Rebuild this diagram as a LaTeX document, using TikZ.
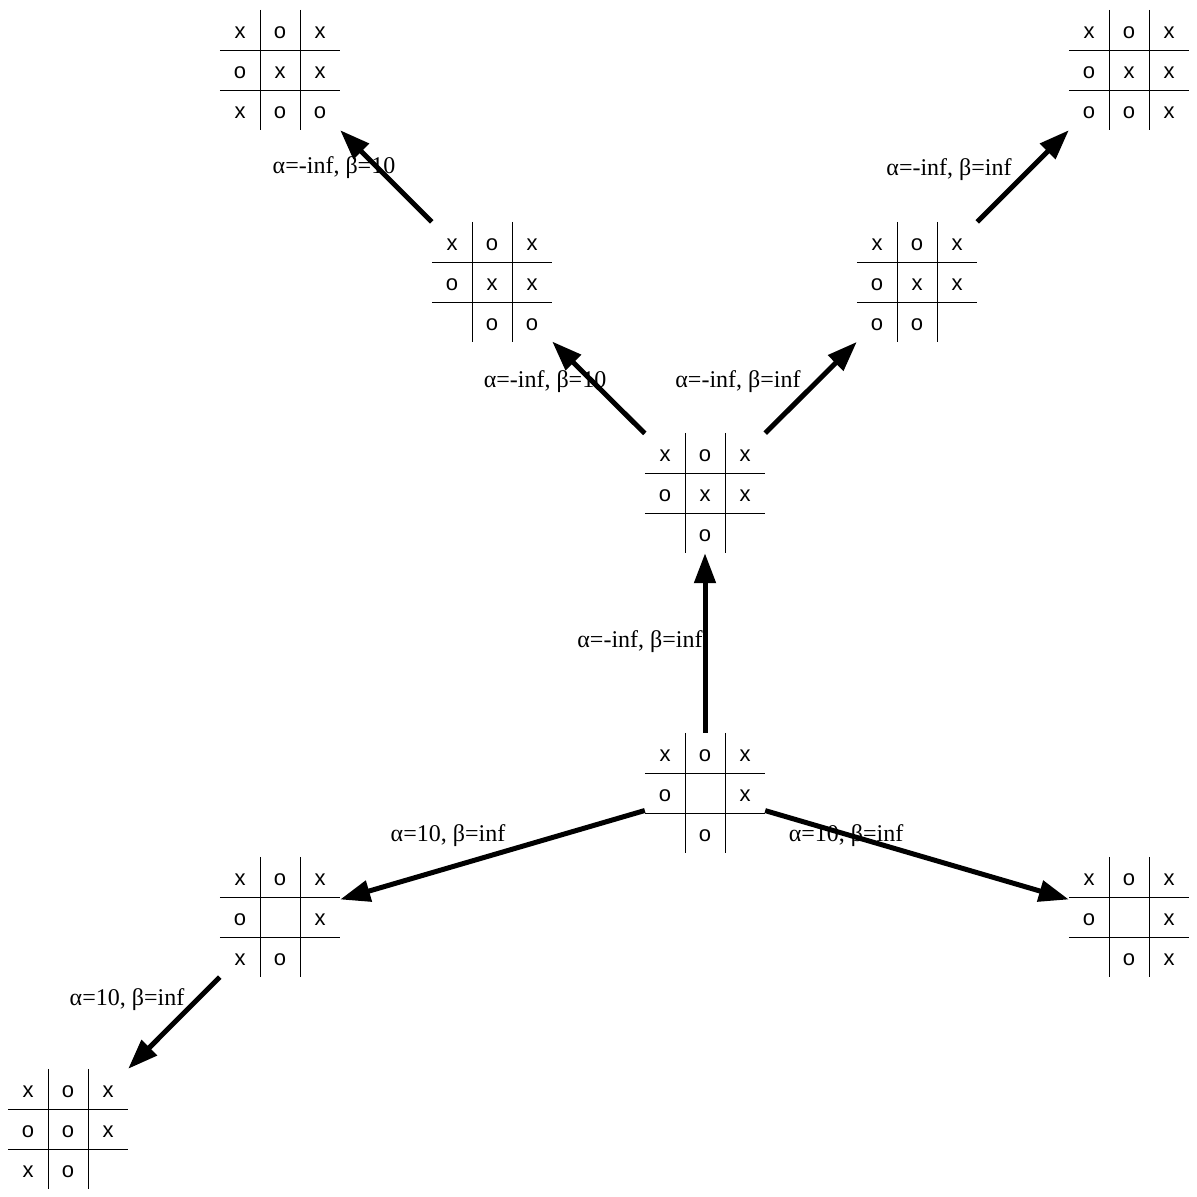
\documentclass[tikz,border=0pt]{standalone}
\usepackage{fontspec}
\setmainfont{Liberation Serif}
\newfontfamily\cellfont{Liberation Sans}
\usetikzlibrary{arrows.meta}

\tikzset{
  board/.style={minimum size=120pt, inner sep=0pt},
  gridline/.style={line width=1pt},
  cell/.style={font=\cellfont\fontsize{22}{26}\selectfont, inner sep=0pt},
  move/.style={line width=5pt, -{Triangle[length=30pt,width=21pt]}},
  lbl/.style={font=\fontsize{24}{28}\selectfont, inner sep=0pt}
}

% one tic-tac-toe position: name, centre, nine entries row by row
\newcommand{\board}[3]{%
  \node[board] (#1) at (#2) {};
  \draw[gridline] ([xshift=-20pt]#1.north) -- ([xshift=-20pt]#1.south)
    ([xshift=20pt]#1.north) -- ([xshift=20pt]#1.south)
    ([yshift=20pt]#1.west) -- ([yshift=20pt]#1.east)
    ([yshift=-20pt]#1.west) -- ([yshift=-20pt]#1.east);
  \foreach \c [count=\k from 0] in {#3} {
    \pgfmathtruncatemacro\row{div(\k,3)}
    \pgfmathtruncatemacro\col{mod(\k,3)}
    \node[cell] at ([shift={(\col*40pt-40pt,37.5pt-\row*40pt)}]#1.center) {\c};
  }
}

\begin{document}
\begin{tikzpicture}[x=1pt, y=-1pt]
  \useasboundingbox (0,0) rectangle (1197,1197);

  \board{root}{705,793}{x,o,x,o,{},x,{},o,{}}
  \board{up}{705,493}{x,o,x,o,x,x,{},o,{}}
  \board{upL}{492,282}{x,o,x,o,x,x,{},o,o}
  \board{topL}{280,70}{x,o,x,o,x,x,x,o,o}
  \board{upR}{917,282}{x,o,x,o,x,x,o,o,{}}
  \board{topR}{1129,70}{x,o,x,o,x,x,o,o,x}
  \board{sideL}{280,917}{x,o,x,o,{},x,x,o,{}}
  \board{botL}{68,1129}{x,o,x,o,o,x,x,o,{}}
  \board{sideR}{1129,917}{x,o,x,o,{},x,{},o,x}

  \draw[move] (root) -- (up);
  \draw[move] (root) -- (sideL);
  \draw[move] (root) -- (sideR);
  \draw[move] (sideL) -- (botL);
  \draw[move] (up) -- (upL);
  \draw[move] (up) -- (upR);
  \draw[move] (upL) -- (topL);
  \draw[move] (upR) -- (topR);

  % edge labels
  \node[lbl] (l1) at (640,642) {α=-inf, β=inf};
  \node[lbl] (l2) at (448,836) {α=10, β=inf};
  \node[lbl] (l3) at (846,836) {α=10, β=inf};
  \node[lbl] (l4) at (127,1000) {α=10, β=inf};
  \node[lbl] (l5) at (545,382) {α=-inf, β=10};
  \node[lbl] (l6) at (738,382) {α=-inf, β=inf};
  \node[lbl] (l7) at (334,168) {α=-inf, β=10};
  \node[lbl] (l8) at (949,170) {α=-inf, β=inf};
\end{tikzpicture}
\end{document}
